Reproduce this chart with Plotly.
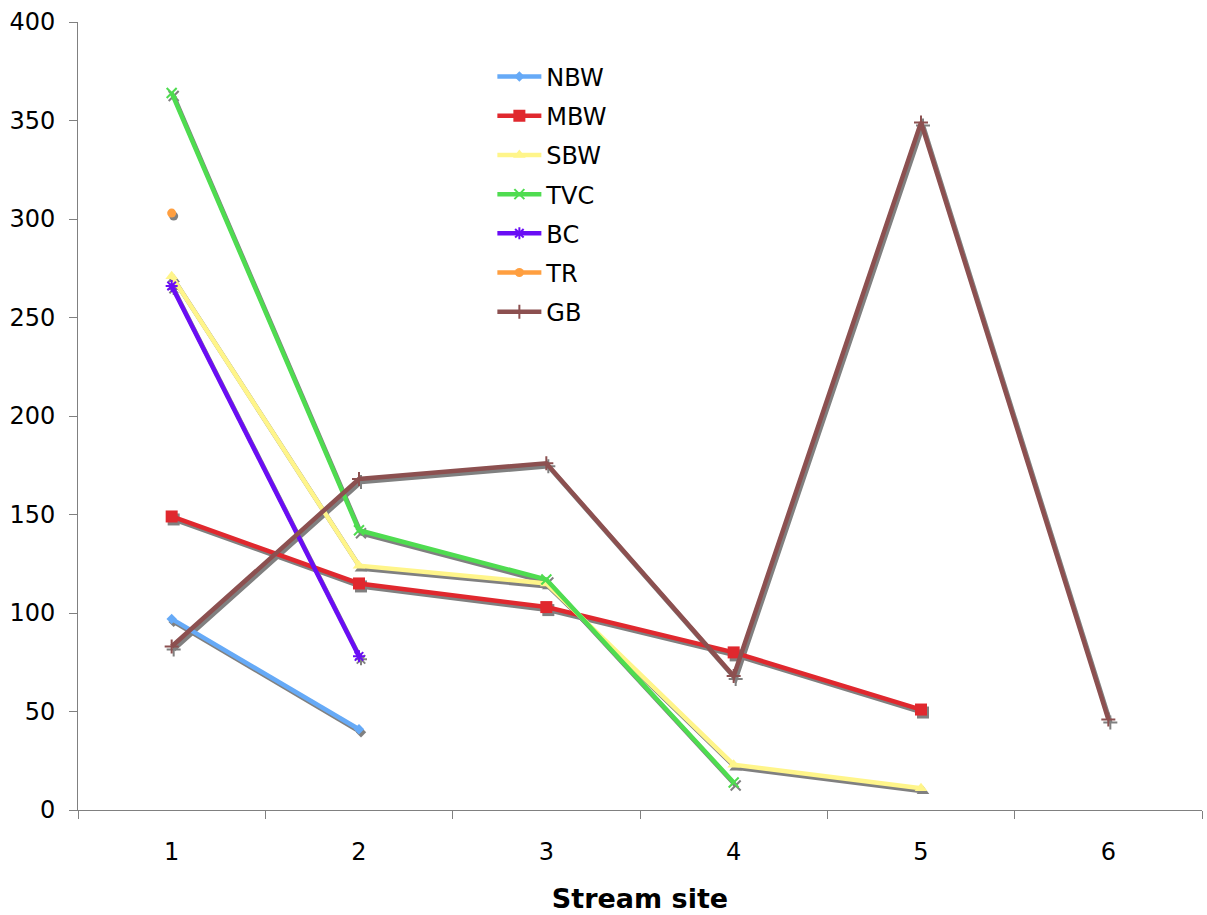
import plotly.graph_objects as go

sites = ["1", "2", "3", "4", "5", "6"]
series_names = ["NBW", "MBW", "SBW", "TVC", "BC", "TR", "GB"]
nbw = [97, 41]
mbw = [149, 115, 103, 80, 51]
sbw = [271, 124, 115, 23, 11]
tvc = [364, 142, 117, 14]
bc = [266, 78]
tr = [303]
gb = [83, 168, 176, 68, 349, 46]
values = [nbw, mbw, sbw, tvc, bc, tr, gb]
colors = ["#66AAF7", "#E0282E", "#FFF58A", "#4FDC50", "#6A0DF5", "#FF9F40", "#8C5050"]
symbols = ["diamond", "square", "triangle-up", "x-thin-open", "asterisk-open", "circle", "cross-thin-open"]
msizes = [8, 12, 11, 10, 10, 9, 10]

W, H = 1207, 915
ml, mr, mt, mb = 78, 3, 22, 102
pw, ph = W - ml - mr, H - mt - mb
dx, dy = 2 / pw, 3 / ph

fig = go.Figure()
shadow = "#808080"
for name, vals, sym, ms in zip(series_names, values, symbols, msizes):
    open_sym = sym.endswith("open")
    fig.add_trace(go.Scatter(
        x=sites[:len(vals)], y=vals, mode="lines+markers", showlegend=False,
        hoverinfo="skip", xaxis="x", yaxis="y",
        line=dict(color=shadow, width=4.5),
        marker=dict(symbol=sym, size=ms, color=shadow,
                    line=dict(color=shadow, width=2 if open_sym else 0)),
    ))
for name, vals, col, sym, ms in zip(series_names, values, colors, symbols, msizes):
    open_sym = sym.endswith("open")
    fig.add_trace(go.Scatter(
        x=sites[:len(vals)], y=vals, mode="lines+markers", name=name,
        legendgroup=name, xaxis="x2", yaxis="y2",
        line=dict(color=col, width=4.5),
        marker=dict(symbol=sym, size=ms, color=col,
                    line=dict(color=col, width=2 if open_sym else 0)),
    ))

font = "DejaVu Sans, Verdana, sans-serif"
common_x = dict(type="category", categoryorder="array", categoryarray=sites,
                range=[-0.5, 5.5])
common_y = dict(range=[0, 400])
axcol = "#808080"
fig.update_layout(
    width=W, height=H,
    margin=dict(l=ml, r=mr, t=mt, b=mb),
    paper_bgcolor="white", plot_bgcolor="rgba(0,0,0,0)",
    font=dict(family=font, size=24, color="black"),
    xaxis=dict(**common_x, domain=[dx, 1], anchor="y", visible=False),
    yaxis=dict(**common_y, domain=[0, 1 - dy], anchor="x", visible=False),
    xaxis2=dict(**common_x, domain=[0, 1 - dx], anchor="y2",
                showline=True, linecolor=axcol, linewidth=1, showgrid=False,
                zeroline=False, ticks="outside", ticklen=8, tickcolor=axcol,
                tickson="boundaries", ticklabelstandoff=20,
                tickfont=dict(size=24),
                title=dict(text="<b>Stream site</b>", font=dict(size=27), standoff=24)),
    yaxis2=dict(**common_y, domain=[dy, 1], anchor="x2",
                showline=True, linecolor=axcol, linewidth=1, showgrid=False,
                zeroline=False, ticks="outside", ticklen=8, tickcolor=axcol,
                tickvals=[0, 50, 100, 150, 200, 250, 300, 350, 400],
                ticklabelstandoff=9, tickfont=dict(size=24)),
    legend=dict(x=0.368, y=0.959, xanchor="left", yanchor="top",
                bgcolor="rgba(0,0,0,0)", font=dict(size=24),
                tracegroupgap=5, itemwidth=44),
    showlegend=True,
)
fig.write_html("out.html")
